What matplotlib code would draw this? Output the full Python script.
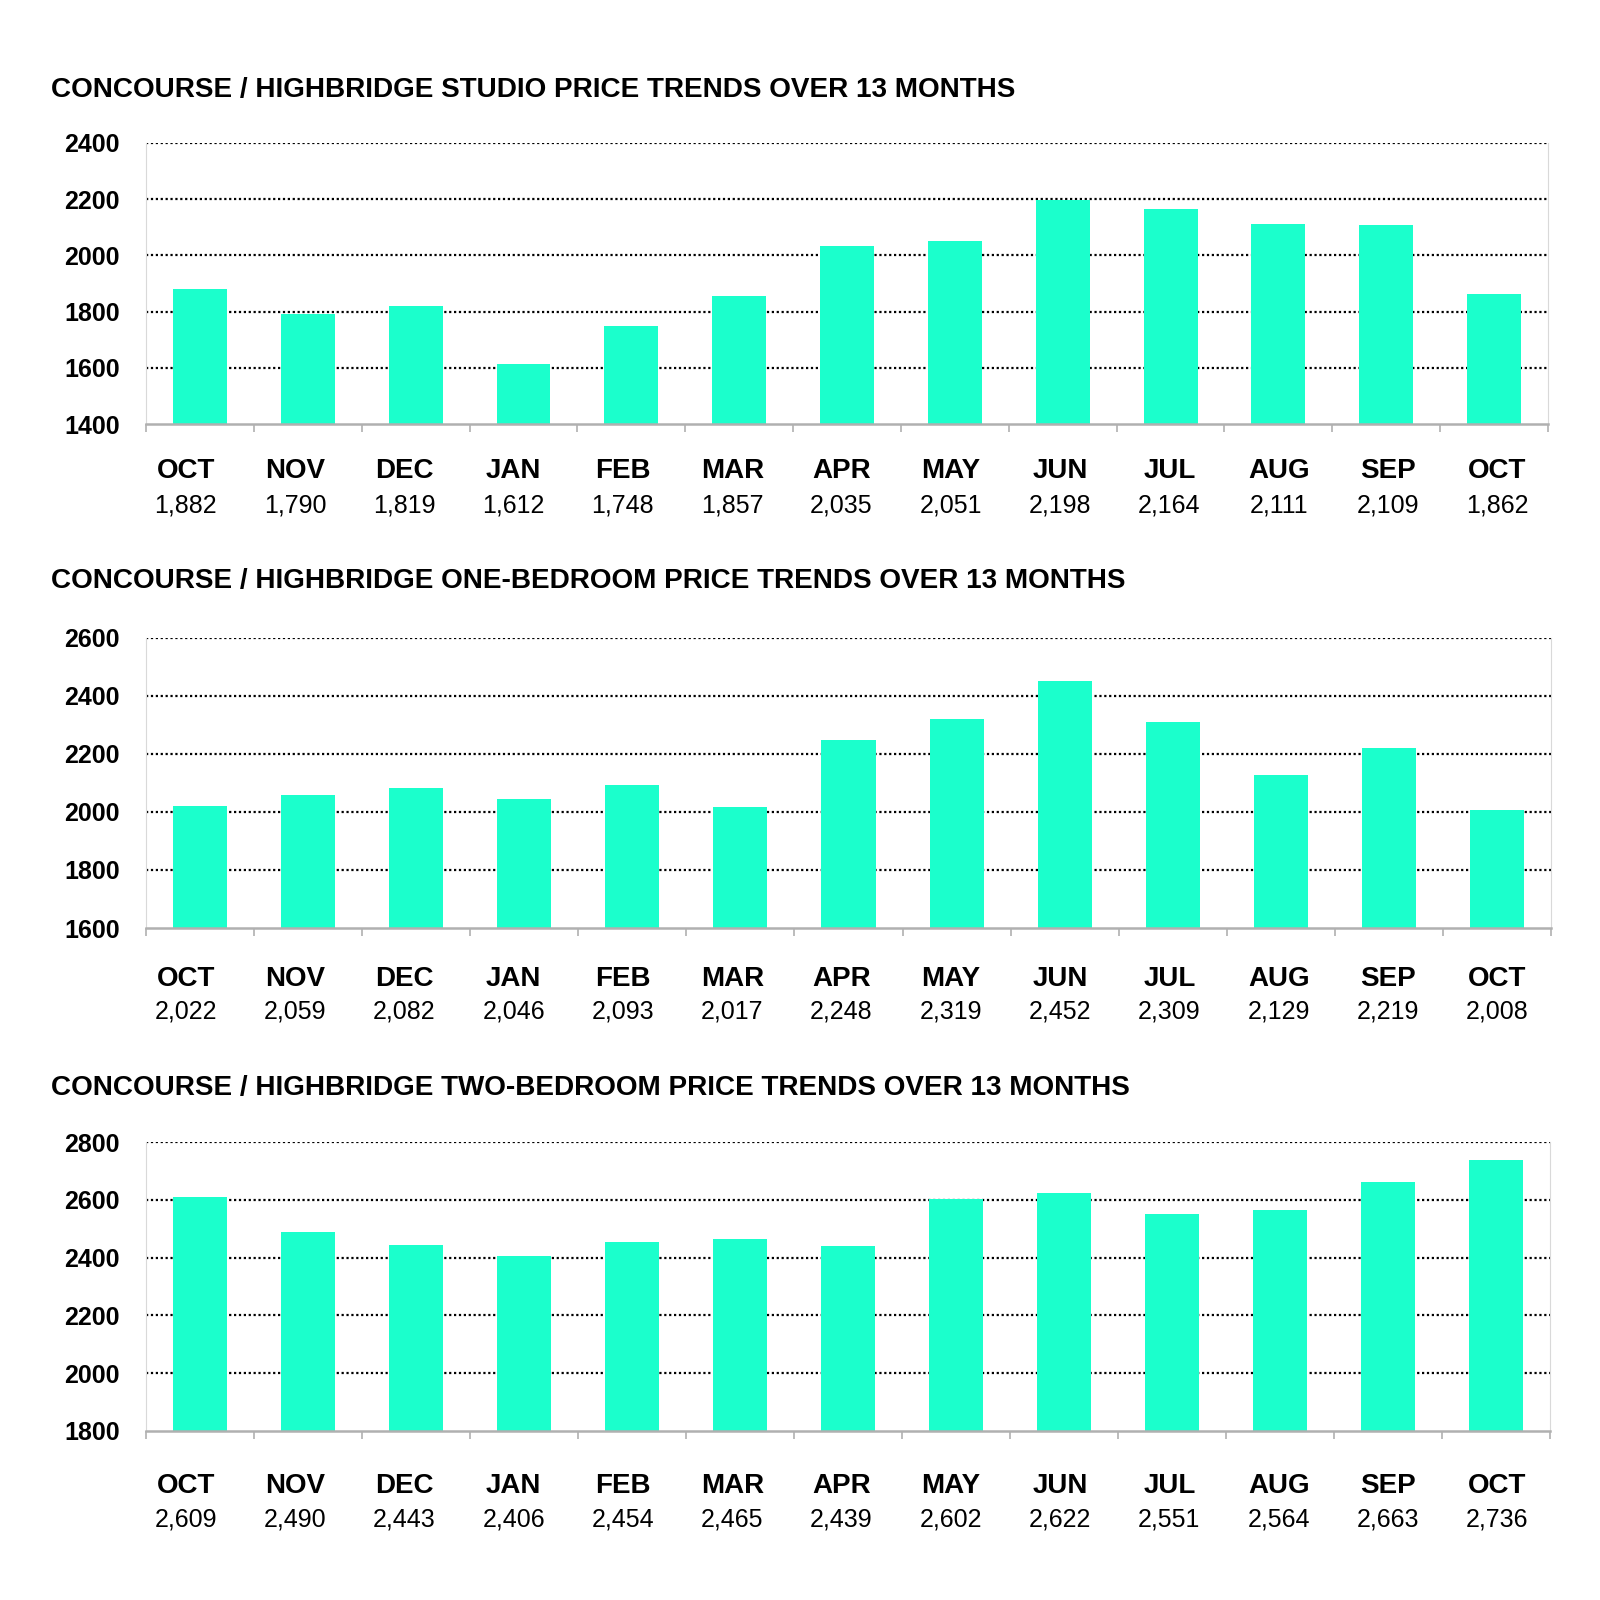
import matplotlib.pyplot as plt
from matplotlib.ticker import FixedLocator

plt.rcParams['font.family'] = ['Liberation Sans', 'DejaVu Sans']

months = ['OCT', 'NOV', 'DEC', 'JAN', 'FEB', 'MAR', 'APR', 'MAY', 'JUN', 'JUL', 'AUG', 'SEP', 'OCT']

studio = [1882, 1790, 1819, 1612, 1748, 1857, 2035, 2051, 2198, 2164, 2111, 2109, 1862]
one_bed = [2022, 2059, 2082, 2046, 2093, 2017, 2248, 2319, 2452, 2309, 2129, 2219, 2008]
two_bed = [2609, 2490, 2443, 2406, 2454, 2465, 2439, 2602, 2622, 2551, 2564, 2663, 2736]

titles = [
    'CONCOURSE / HIGHBRIDGE STUDIO PRICE TRENDS OVER 13 MONTHS',
    'CONCOURSE / HIGHBRIDGE ONE-BEDROOM PRICE TRENDS OVER 13 MONTHS',
    'CONCOURSE / HIGHBRIDGE TWO-BEDROOM PRICE TRENDS OVER 13 MONTHS',
]
yranges = [(1400, 2400), (1600, 2600), (1800, 2800)]

BAR = '#1bffcc'
W = H = 1600

# panel boxes in pixels: left, top, right, bottom, title y, month label y, value label y
panels = [
    (146, 143, 1548, 424, 90, 471, 505),
    (146, 638, 1551, 928, 581, 979, 1012),
    (146, 1142, 1550, 1431, 1088, 1486, 1519),
]
# the label table under each chart is laid out on its own column grid
col_x0, col_step = 185.7, 109.3

fig = plt.figure(figsize=(16, 16), dpi=100)

for k, (vals, title, (y0, y1)) in enumerate(zip([studio, one_bed, two_bed], titles, yranges)):
    l, t, r, b, ty, my, vy = panels[k]
    ax = fig.add_axes([l / W, 1 - b / H, (r - l) / W, (b - t) / H])
    x = list(range(len(months)))
    ax.bar(x, vals, width=0.5, color=BAR, zorder=3)
    ax.set_xlim(-0.5, len(months) - 0.5)
    ax.set_ylim(y0, y1)
    ax.set_yticks(range(y0, y1 + 1, 200))
    ax.yaxis.grid(True, linestyle=(0, (1, 1.2)), color='black', linewidth=1.6, zorder=1)
    ax.get_ygridlines()[0].set_visible(False)
    ax.tick_params(axis='y', length=0, pad=19, labelsize=18)
    for lab in ax.get_yticklabels():
        lab.set_fontweight('bold')
    ax.set_xticks([])
    ax.xaxis.set_minor_locator(FixedLocator([i - 0.5 for i in range(len(months) + 1)]))
    ax.tick_params(axis='x', which='minor', length=6, width=1.2, color='#b0b0b0')
    ax.spines['top'].set_visible(False)
    ax.spines['left'].set_color('#d9d9d9')
    ax.spines['right'].set_color('#d9d9d9')
    ax.spines['bottom'].set_color('#b0b0b0')
    ax.spines['bottom'].set_linewidth(1.8)
    ax.spines['bottom'].set_zorder(4)
    for i, (m, v) in enumerate(zip(months, vals)):
        cx = (col_x0 + i * col_step) / W
        fig.text(cx, 1 - my / H, m, ha='center', va='center',
                 fontsize=20, fontweight='bold')
        fig.text(cx, 1 - vy / H, f'{v:,}', ha='center', va='center', fontsize=18)
    fig.text(51 / W, 1 - ty / H, title, ha='left', va='center',
             fontsize=20.1, fontweight='bold')

fig.savefig('out.png', dpi=100, facecolor='white')
